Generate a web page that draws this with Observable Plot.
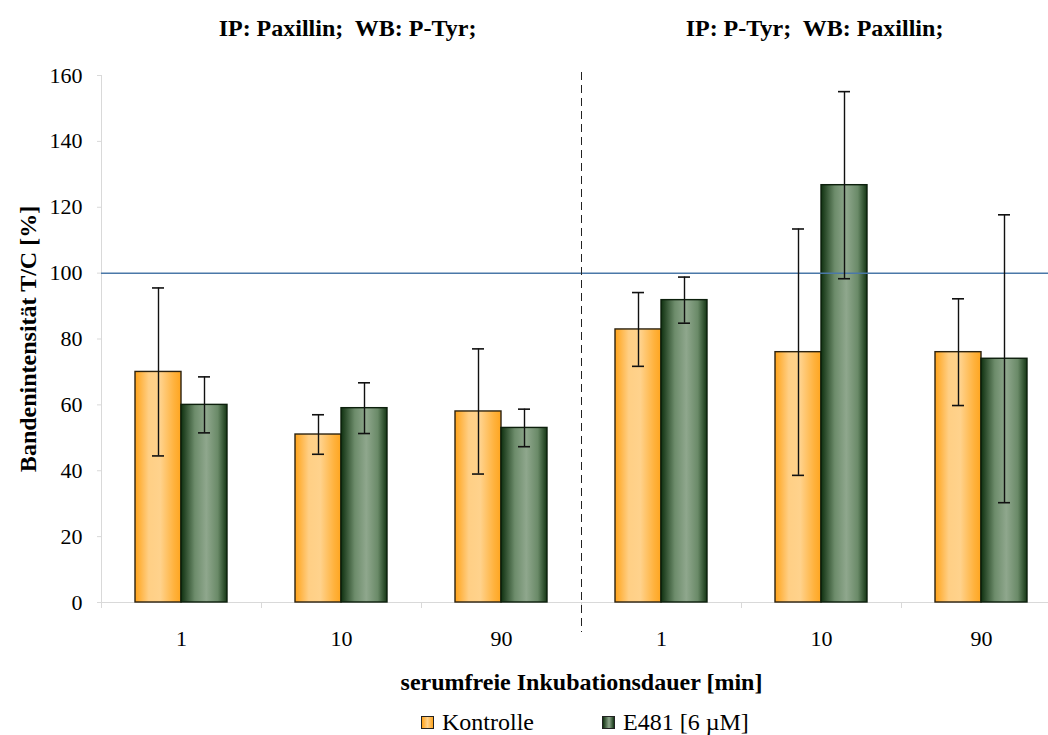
<!DOCTYPE html>
<html><head><meta charset="utf-8">
<script src="https://cdn.jsdelivr.net/npm/d3@7"></script>
<script src="https://cdn.jsdelivr.net/npm/@observablehq/plot@0.6"></script>
<style>
html,body{margin:0;padding:0;background:#fff;overflow:hidden;width:1048px;height:735px}
#chart{position:relative;width:1048px;height:735px}
#chart svg, #chart svg text{font-family:'Liberation Serif',serif !important}
#chart svg text{white-space:pre}
#legend{position:absolute;left:421px;top:708px;height:28px;display:flex;align-items:center;font-family:'Liberation Serif',serif !important;font-size:24px;color:#000}
.item{display:flex;align-items:center;margin-right:68px}
.sw{width:11px;height:11px;border:1px solid #222;margin-right:8px}
</style></head>
<body><div id="chart"></div>
<script>
const groupKeys = ["P1","P10","P90","T1","T10","T90"];
const tickLabels = ["1","10","90","1","10","90"];
const seriesNames = ["Kontrolle","E481 [6 \u00b5M]"];
const kontrolle = [70, 51, 58, 82.9, 76, 76];
const kontrolleErr = [25.5, 6, 19, 11.2, 37.4, 16.2];
const e481 = [60, 59, 53, 91.8, 126.7, 74];
const e481Err = [8.5, 7.7, 5.7, 7, 28.4, 43.7];
const panelTitles = ["IP: Paxillin;  WB: P-Tyr;", "IP: P-Tyr;  WB: Paxillin;"];
const panelTitleAt = ["P10","T10"];
const yTicks = [0,20,40,60,80,100,120,140,160];
const referenceLine = [100];
const yLabel = "Bandenintensit\u00e4t T/C [%]";
const xLabel = "serumfreie Inkubationsdauer [min]";

const FF = "'Liberation Serif', serif";
const rowsK = groupKeys.map((g,i)=>({g, v:kontrolle[i], e:kontrolleErr[i]}));
const rowsE = groupKeys.map((g,i)=>({g, v:e481[i], e:e481Err[i]}));
const ends = rows => rows.flatMap(d => [d.v-d.e, d.v+d.e].map(y => ({g:d.g, y})));
const grey = "#d9d9d9";

const defs = () => {
  const d = d3.create("svg:defs");
  const gk = d.append("linearGradient").attr("id","gradK").attr("x1",0).attr("x2",1).attr("y1",0).attr("y2",0);
  [[0,"#ffa31a"],[0.3,"#ffcf85"],[0.55,"#ffd28c"],[0.85,"#ffb23d"],[1,"#ffa51f"]].forEach(([o,c])=>gk.append("stop").attr("offset",o).attr("stop-color",c));
  const ge = d.append("linearGradient").attr("id","gradE").attr("x1",0).attr("x2",1).attr("y1",0).attr("y2",0);
  [[0,"#0f300f"],[0.3,"#6d8c6b"],[0.55,"#8fa78d"],[0.8,"#6a8a68"],[1,"#143614"]].forEach(([o,c])=>ge.append("stop").attr("offset",o).attr("stop-color",c));
  return d.node();
};

const chart = Plot.plot({
  width: 1048, height: 700,
  marginLeft: 101, marginRight: -13, marginTop: 75, marginBottom: 98,
  style: {fontFamily: FF, color: "#000", background: "#fff", overflow: "visible"},
  x: {type: "band", domain: groupKeys, padding: 0, axis: null},
  y: {domain: [0,160], axis: null},
  marks: [
    defs,
    Plot.ruleY([0], {stroke: grey}),
    Plot.ruleX([groupKeys[0]], {dx: -80, stroke: grey}),
    Plot.axisY(yTicks, {tickSize: 4, tickPadding: 15, stroke: grey, fill: "#000", fontSize: 22, fontFamily: FF, label: null}),
    Plot.axisX({dx: -80, tickSize: 6, tickFormat: () => "", stroke: grey, label: null}),
    Plot.text(groupKeys, {x: d => d, text: (d,i) => tickLabels[i], frameAnchor: "bottom", lineAnchor: "middle", dy: 36, fontSize: 22, fontFamily: FF, fill: "#000"}),
    Plot.barY(rowsK, {x: "g", y: "v", fill: "url(#gradK)", stroke: "#2b2210", strokeWidth: 1.4, insetLeft: 34, insetRight: 80}),
    Plot.barY(rowsE, {x: "g", y: "v", fill: "url(#gradE)", stroke: "#0c1f0c", strokeWidth: 1.4, insetLeft: 80, insetRight: 34}),
    Plot.ruleY(referenceLine, {stroke: "#4a78a8", strokeWidth: 1.5}),
    Plot.ruleX(rowsK, {x: "g", y1: d => d.v-d.e, y2: d => d.v+d.e, dx: -23, stroke: "#111", strokeWidth: 1.4}),
    Plot.ruleX(rowsE, {x: "g", y1: d => d.v-d.e, y2: d => d.v+d.e, dx: 23, stroke: "#111", strokeWidth: 1.4}),
    Plot.tickY(ends(rowsK), {x: "g", y: "y", insetLeft: 51, insetRight: 97, stroke: "#111", strokeWidth: 1.6}),
    Plot.tickY(ends(rowsE), {x: "g", y: "y", insetLeft: 97, insetRight: 51, stroke: "#111", strokeWidth: 1.6}),
    Plot.ruleX(["T1"], {dx: -80, insetTop: -3, insetBottom: -30, stroke: "#222", strokeWidth: 1, strokeDasharray: "8,5"}),
    Plot.text([panelTitleAt[0]], {x: d => d, text: () => panelTitles[0], frameAnchor: "top", lineAnchor: "middle", dy: -47, dx: 6, fontWeight: "bold", fontSize: 24, fontFamily: FF, fill: "#000"}),
    Plot.text([panelTitleAt[1]], {x: d => d, text: () => panelTitles[1], frameAnchor: "top", lineAnchor: "middle", dy: -47, dx: -7, fontWeight: "bold", fontSize: 24, fontFamily: FF, fill: "#000"}),
    Plot.text([yLabel], {frameAnchor: "left", textAnchor: "middle", lineAnchor: "middle", dx: -73, rotate: -90, fontWeight: "bold", fontSize: 24, fontFamily: FF, fill: "#000"}),
    Plot.text([xLabel], {frameAnchor: "bottom", lineAnchor: "middle", dy: 80, fontWeight: "bold", fontSize: 24, fontFamily: FF, fill: "#000"})
  ]
});
const host = document.getElementById("chart");
host.appendChild(chart);

const legend = document.createElement("div");
legend.id = "legend";
legend.style.fontFamily = FF;
const swatch = ["linear-gradient(90deg,#ffa31a,#ffd28c 50%,#ffa51f)", "linear-gradient(90deg,#0f300f,#8fa78d 55%,#143614)"];
seriesNames.forEach((n,i) => {
  const it = document.createElement("div"); it.className = "item";
  const s = document.createElement("div"); s.className = "sw"; s.style.background = swatch[i];
  const t = document.createElement("span"); t.textContent = n;
  it.appendChild(s); it.appendChild(t); legend.appendChild(it);
});
host.appendChild(legend);
</script></body></html>
